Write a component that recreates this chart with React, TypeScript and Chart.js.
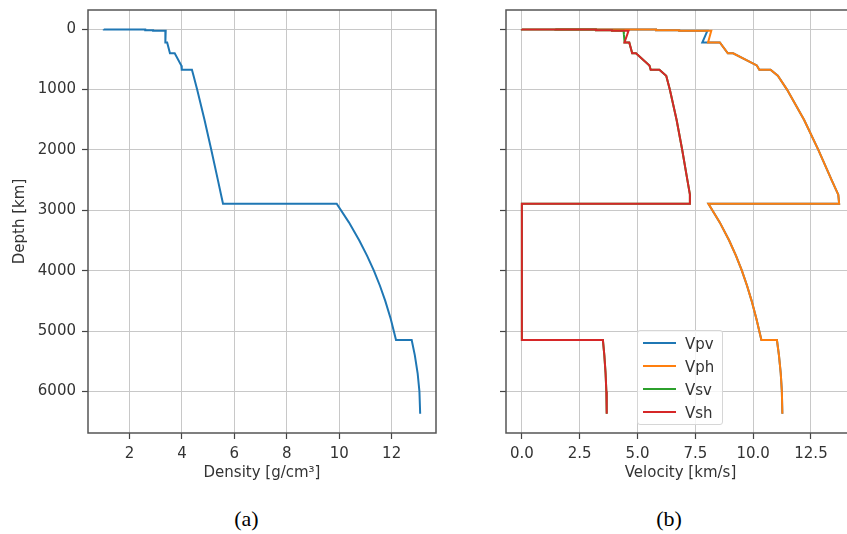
import React, { useEffect, useRef } from "react";
import { Chart, registerables } from "chart.js";

Chart.register(...registerables);

// ---- Data (PREM-like earth model) ----
const depthKm = [
  0, 3, 3, 15, 15, 24.4, 24.4, 80, 220, 220, 400, 400, 600, 670, 670, 771,
  1000, 1500, 2000, 2500, 2741, 2891, 2891, 3200, 3500, 3750, 4000, 4250,
  4500, 4800, 5150, 5150, 5400, 5700, 6000, 6371,
];
const density = [
  1.02, 1.02, 2.6, 2.6, 2.9, 2.9, 3.381, 3.375, 3.36, 3.436, 3.543, 3.724,
  3.976, 3.992, 4.381, 4.443, 4.58, 4.86, 5.121, 5.372, 5.492, 5.567, 9.903,
  10.369, 10.766, 11.06, 11.322, 11.553, 11.756, 11.966, 12.166, 12.764,
  12.883, 12.991, 13.059, 13.088,
];
const vpv = [
  1.45, 1.45, 5.8, 5.8, 6.8, 6.8, 8.022, 7.959, 7.801, 8.559, 8.905, 9.134,
  10.158, 10.266, 10.751, 11.066, 11.464, 12.2, 12.818, 13.394, 13.68,
  13.717, 8.065, 8.556, 8.963, 9.256, 9.512, 9.736, 9.934, 10.142, 10.356,
  11.028, 11.114, 11.192, 11.241, 11.262,
];
const vph = [
  1.45, 1.45, 5.8, 5.8, 6.8, 6.8, 8.19, 8.15, 8.049, 8.559, 8.905, 9.134,
  10.158, 10.266, 10.751, 11.066, 11.464, 12.2, 12.818, 13.394, 13.68,
  13.717, 8.065, 8.556, 8.963, 9.256, 9.512, 9.736, 9.934, 10.142, 10.356,
  11.028, 11.114, 11.192, 11.241, 11.262,
];
const vsv = [
  0, 0, 3.2, 3.2, 3.9, 3.9, 4.396, 4.409, 4.441, 4.644, 4.77, 4.933, 5.516,
  5.57, 5.945, 6.241, 6.397, 6.689, 6.933, 7.157, 7.266, 7.265, 0, 0, 0, 0,
  0, 0, 0, 0, 0, 3.504, 3.565, 3.619, 3.653, 3.668,
];
const vsh = [
  0, 0, 3.2, 3.2, 3.9, 3.9, 4.612, 4.562, 4.436, 4.644, 4.77, 4.933, 5.516,
  5.57, 5.945, 6.241, 6.397, 6.689, 6.933, 7.157, 7.266, 7.265, 0, 0, 0, 0,
  0, 0, 0, 0, 0, 3.504, 3.565, 3.619, 3.653, 3.668,
];

const seriesNames = ["Vpv", "Vph", "Vsv", "Vsh"];
const seriesColors = ["#1f77b4", "#ff7f0e", "#2ca02c", "#d62728"];
const velocitySeries = [vpv, vph, vsv, vsh];

const depthTicks = [0, 1000, 2000, 3000, 4000, 5000, 6000];
const densityTicks = [2, 4, 6, 8, 10, 12];
const velocityTicks = [0, 2.5, 5, 7.5, 10, 12.5];

const depthTitle = "Depth [km]";
const densityTitle = "Density [g/cm³]";
const velocityTitle = "Velocity [km/s]";
const captions = ["(a)", "(b)"];

// ---- Styling ----
const FONT = "'DejaVu Sans', sans-serif";
const FONT_SIZE = 15;
const TEXT_COLOR = "#333";
const GRID_COLOR = "#c8c8c8";
const TICK_COLOR = "#444";

function withMargin(values: number[]): [number, number] {
  const lo = Math.min(...values);
  const hi = Math.max(...values);
  const m = (hi - lo) * 0.05;
  return [lo - m, hi + m];
}

function makeFramePlugin(drawRight: boolean) {
  return {
    id: "frame",
    afterDatasetsDraw(chart: any) {
      const { ctx, chartArea } = chart;
      const { left, top, right, bottom } = chartArea;
      ctx.save();
      ctx.strokeStyle = "#555";
      ctx.lineWidth = 1.5;
      ctx.beginPath();
      if (drawRight) {
        ctx.rect(left, top, right - left, bottom - top);
      } else {
        ctx.moveTo(right + 2, top);
        ctx.lineTo(left, top);
        ctx.lineTo(left, bottom);
        ctx.lineTo(right + 2, bottom);
      }
      ctx.stroke();
      ctx.restore();
    },
  };
}

function axis(opts: any) {
  return {
    type: "linear",
    min: opts.min,
    max: opts.max,
    reverse: !!opts.reverse,
    afterBuildTicks: (scale: any) => {
      scale.ticks = opts.ticks.map((v: number) => ({ value: v }));
    },
    afterFit: (s: any) => {
      if (opts.size.height !== undefined) s.height = opts.size.height;
      if (opts.size.width !== undefined) s.width = opts.size.width;
      s.paddingLeft = 0;
      s.paddingRight = 0;
      s.paddingTop = 0;
      s.paddingBottom = 0;
    },
    ticks: {
      display: opts.showLabels !== false,
      autoSkip: false,
      maxRotation: 0,
      padding: 6,
      color: TEXT_COLOR,
      font: { family: FONT, size: FONT_SIZE },
      callback: opts.format,
    },
    grid: {
      color: GRID_COLOR,
      lineWidth: 1,
      tickLength: 6,
      tickColor: TICK_COLOR,
      tickWidth: 1.2,
      drawTicks: true,
    },
    border: { display: false },
    title: opts.title
      ? {
          display: true,
          text: opts.title,
          color: TEXT_COLOR,
          font: { family: FONT, size: FONT_SIZE, lineHeight: 1.2 },
          padding: opts.titlePadding,
        }
      : { display: false },
  };
}

const [depthMin, depthMax] = withMargin(depthKm);
const [densMin, densMax] = withMargin(density);
const [velMin, velMax] = withMargin([...vpv, ...vph, ...vsv, ...vsh]);

function DensityChart() {
  const ref = useRef<HTMLCanvasElement | null>(null);
  useEffect(() => {
    if (!ref.current) return;
    const chart = new Chart(ref.current, {
      type: "scatter",
      data: {
        datasets: [
          {
            label: "Density",
            data: depthKm.map((d, i) => ({ x: density[i], y: d })),
            showLine: true,
            borderColor: "#1f77b4",
            backgroundColor: "#1f77b4",
            borderWidth: 2,
            pointRadius: 0,
            tension: 0,
            fill: false,
          } as any,
        ],
      },
      options: {
        responsive: false,
        animation: false,
        devicePixelRatio: 1,
        events: [],
        layout: { padding: { top: 10, right: 4, left: 0, bottom: 0 } },
        plugins: { legend: { display: false }, tooltip: { enabled: false } },
        scales: {
          x: axis({
            min: densMin,
            max: densMax,
            ticks: densityTicks,
            format: (v: any) => String(v),
            title: densityTitle,
            titlePadding: { top: 0, bottom: 0 },
            size: { height: 49 },
          }),
          y: axis({
            min: depthMin,
            max: depthMax,
            reverse: true,
            ticks: depthTicks,
            format: (v: any) => String(v),
            title: depthTitle,
            titlePadding: { top: 11, bottom: 0 },
            size: { width: 88 },
          }),
        } as any,
      },
      plugins: [makeFramePlugin(true)],
    });
    return () => chart.destroy();
  }, []);
  return (
    <canvas
      ref={ref}
      width={440}
      height={482}
      style={{ position: "absolute", left: 0, top: 0, width: 440, height: 482 }}
    />
  );
}

function VelocityChart() {
  const ref = useRef<HTMLCanvasElement | null>(null);
  useEffect(() => {
    if (!ref.current) return;
    const chart = new Chart(ref.current, {
      type: "scatter",
      data: {
        datasets: velocitySeries.map((vals, k) => ({
          label: seriesNames[k],
          data: depthKm.map((d, i) => ({ x: vals[i], y: d })),
          showLine: true,
          borderColor: seriesColors[k],
          backgroundColor: seriesColors[k],
          borderWidth: 2,
          pointRadius: 0,
          tension: 0,
          fill: false,
          order: velocitySeries.length - k,
        })) as any,
      },
      options: {
        responsive: false,
        animation: false,
        devicePixelRatio: 1,
        events: [],
        layout: { padding: { top: 10, right: 5, left: 0, bottom: 0 } },
        plugins: { legend: { display: false }, tooltip: { enabled: false } },
        scales: {
          x: axis({
            min: velMin,
            max: velMax,
            ticks: velocityTicks,
            format: (v: any) => Number(v).toFixed(1),
            title: velocityTitle,
            titlePadding: { top: 0, bottom: 0 },
            size: { height: 49 },
          }),
          y: axis({
            min: depthMin,
            max: depthMax,
            reverse: true,
            ticks: depthTicks,
            showLabels: false,
            format: (v: any) => String(v),
            size: { width: 66 },
          }),
        } as any,
      },
      plugins: [makeFramePlugin(false)],
    });
    return () => chart.destroy();
  }, []);
  return (
    <canvas
      ref={ref}
      width={420}
      height={482}
      style={{ position: "absolute", left: 440, top: 0, width: 420, height: 482 }}
    />
  );
}

function Legend() {
  const rowTops = [13, 36, 58.5, 81.5];
  return (
    <div
      style={{
        position: "absolute",
        left: 637,
        top: 330,
        width: 86,
        height: 95,
        boxSizing: "border-box",
        background: "rgba(255,255,255,0.8)",
        border: "1px solid #d6d6d6",
        borderRadius: 3,
      }}
    >
      {seriesNames.map((name, k) => (
        <div key={name}>
          <div
            style={{
              position: "absolute",
              left: 5,
              top: rowTops[k] - 2,
              width: 33,
              height: 2,
              background: seriesColors[k],
            }}
          />
          <div
            style={{
              position: "absolute",
              left: 47,
              top: rowTops[k] - 10,
              height: 20,
              lineHeight: "20px",
              fontFamily: FONT,
              fontSize: FONT_SIZE,
              color: TEXT_COLOR,
              whiteSpace: "nowrap",
            }}
          >
            {name}
          </div>
        </div>
      ))}
    </div>
  );
}

export default function App() {
  const captionCenters = [246.5, 669];
  return (
    <div
      style={{
        position: "fixed",
        left: 0,
        top: 0,
        width: 847,
        height: 534,
        overflow: "hidden",
        background: "#fff",
      }}
    >
      <DensityChart />
      <VelocityChart />
      <Legend />
      {captions.map((c, i) => (
        <div
          key={c}
          style={{
            position: "absolute",
            left: captionCenters[i] - 50,
            top: 508,
            width: 100,
            textAlign: "center",
            fontFamily: "'Liberation Serif', 'Times New Roman', serif",
            fontSize: 22,
            lineHeight: "22px",
            color: "#000",
          }}
        >
          {c}
        </div>
      ))}
    </div>
  );
}
